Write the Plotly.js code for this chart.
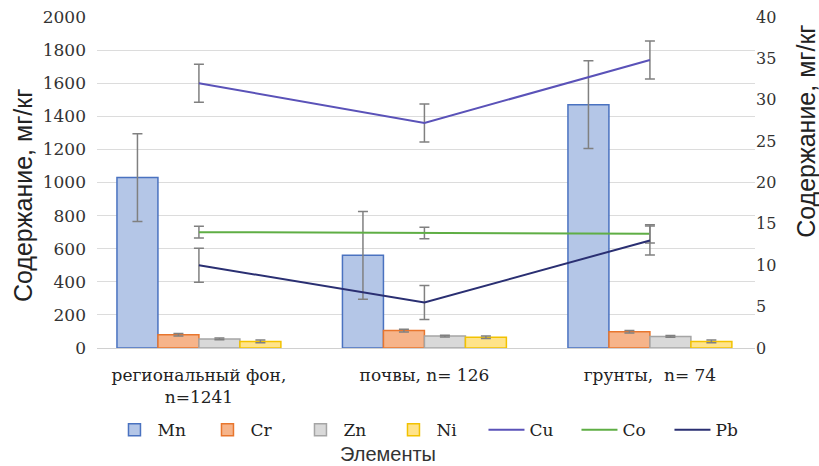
<!DOCTYPE html>
<html><head><meta charset="utf-8">
<script src="https://cdn.plot.ly/plotly-3.0.1.min.js"></script>
<style>html,body{margin:0;padding:0;background:#fff}#chart{width:819px;height:466px}</style>
</head><body><div id="chart"></div>
<script>
const categories = ['региональный фон,<br>n=1241', 'почвы, n= 126', 'грунты,  n= 74'];
const mn = [1030, 560, 1470];
const mnErr = [265, 265, 265];
const cr = [80, 105, 98];
const crErr = [8, 8, 8];
const zn = [55, 72, 70];
const znErr = [5, 5, 5];
const ni = [40, 65, 40];
const niErr = [8, 8, 8];
const cu = [32, 27.2, 34.8];
const cuErr = [2.3, 2.3, 2.3];
const co = [14.0, 13.9, 13.8];
const coErr = [0.7, 0.7, 1.1];
const pb = [10, 5.5, 13];
const pbErr = [2.05, 2.05, 1.75];
const yTitle = 'Содержание, мг/кг';
const xTitle = 'Элементы';

const errStyle = (arr) => ({type: 'data', array: arr, visible: true, color: '#808080', thickness: 1.5, width: 5});
function barTrace(name, y, err, fill, line) {
  return {type: 'bar', name: name, x: categories, y: y, error_y: errStyle(err),
    marker: {color: fill, line: {color: line, width: 1.5}}, yaxis: 'y'};
}
function lineTrace(name, y, err, color) {
  return {type: 'scatter', mode: 'lines', name: name, x: categories, y: y, error_y: errStyle(err),
    line: {color: color, width: 2}, yaxis: 'y2'};
}
const data = [
  barTrace('Mn', mn, mnErr, '#b4c6e7', '#4a72c0'),
  barTrace('Cr', cr, crErr, '#f6b48a', '#e8762e'),
  barTrace('Zn', zn, znErr, '#d9d9d9', '#a5a5a5'),
  barTrace('Ni', ni, niErr, '#ffe38a', '#f2c200'),
  lineTrace('Cu', cu, cuErr, '#5a52b8'),
  lineTrace('Co', co, coErr, '#5fae45'),
  lineTrace('Pb', pb, pbErr, '#2a2f72')
];
const serif = 'DejaVu Serif';
const sans = 'Liberation Sans';
const layout = {
  width: 819, height: 466,
  margin: {l: 97, r: 64, t: 17, b: 118, autoexpand: false},
  paper_bgcolor: '#fff', plot_bgcolor: '#fff',
  barmode: 'group', bargap: 0.273, bargroupgap: 0,
  showlegend: true,
  legend: {orientation: 'h', x: 0.022, xanchor: 'left', y: -0.248, yanchor: 'middle',
    font: {family: serif, size: 17, color: '#222'}, traceorder: 'normal',
    entrywidth: 42, entrywidthmode: 'pixels', itemwidth: 36},
  xaxis: {type: 'category', range: [-0.452, 2.466], showgrid: false, zeroline: false,
    showline: false, ticks: '', ticklabelstandoff: 15,
    tickfont: {family: serif, size: 17, color: '#222'}},
  yaxis: {range: [0, 2000], dtick: 200, showgrid: true, gridcolor: '#dcdcdc', gridwidth: 1,
    zeroline: true, zerolinecolor: '#d0d0d0', showline: false, ticks: '', ticklabelstandoff: 10,
    tickfont: {family: serif, size: 17, color: '#333'}},
  yaxis2: {range: [0, 40], dtick: 5, overlaying: 'y', side: 'right', showgrid: false,
    zeroline: false, showline: false, ticks: '',
    tickfont: {family: serif, size: 16, color: '#333'}},
  annotations: [
    {text: yTitle, xref: 'paper', yref: 'paper', x: -0.1125, y: 0.462, xanchor: 'center', yanchor: 'middle',
      textangle: -90, showarrow: false, font: {family: sans, size: 25, color: '#222'}},
    {text: yTitle, xref: 'paper', yref: 'paper', x: 1.0775, y: 0.656, xanchor: 'center', yanchor: 'middle',
      textangle: -90, showarrow: false, font: {family: sans, size: 25, color: '#222'}},
    {text: xTitle, xref: 'paper', yref: 'paper', x: 0.442, y: -0.320, xanchor: 'center', yanchor: 'middle',
      showarrow: false, font: {family: sans, size: 20, color: '#333'}}
  ]
};
Plotly.newPlot('chart', data, layout, {displayModeBar: false, staticPlot: true});
</script></body></html>
